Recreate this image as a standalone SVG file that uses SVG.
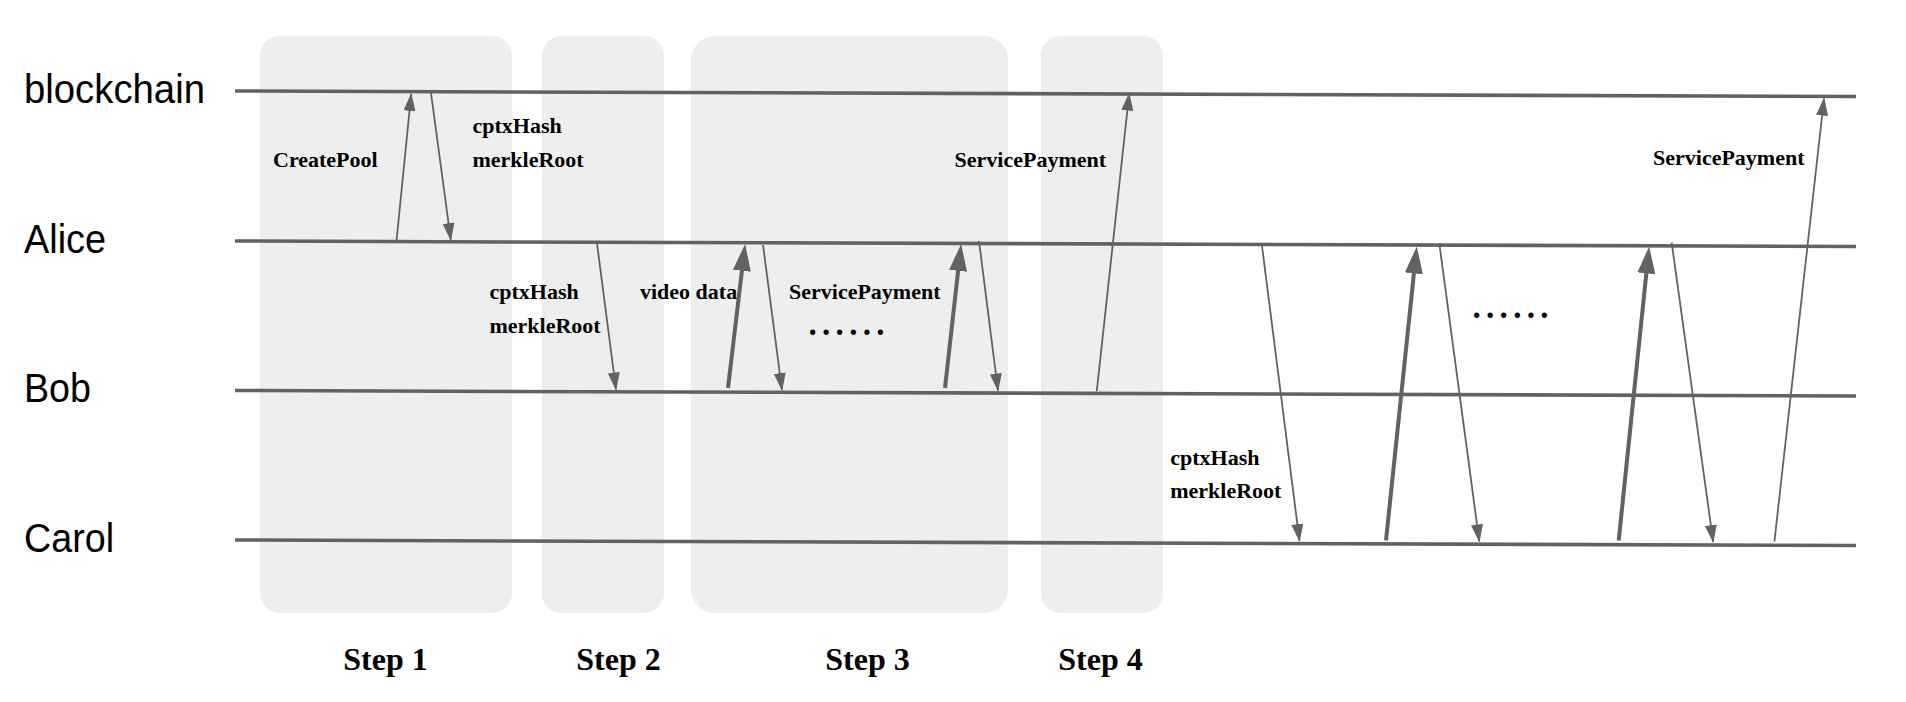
<svg xmlns="http://www.w3.org/2000/svg" width="1906" height="702" viewBox="0 0 1906 702">
<style>
.step{fill:#eeeeee}
.life{stroke:#626262;stroke-width:3.6;fill:none}
.actor{font-family:"Liberation Sans",Arial,sans-serif;font-size:40px;fill:#000}
.msg{font-family:"Liberation Serif","Times New Roman",serif;font-weight:bold;font-size:22px;fill:#000}
.steplbl{font-family:"Liberation Serif","Times New Roman",serif;font-weight:bold;font-size:32px;fill:#000;text-anchor:middle}
.dots{font-family:"Liberation Serif","Times New Roman",serif;font-weight:bold;font-size:33px;fill:#000;letter-spacing:5.3px}
.thin{stroke:#626262;stroke-width:1.8;fill:none;marker-end:url(#ah)}
.thick{stroke:#626262;stroke-width:4;fill:none;marker-end:url(#ahb)}
</style>
<defs>
<marker id="ah" markerUnits="userSpaceOnUse" markerWidth="18" markerHeight="12" refX="17" refY="6" orient="auto">
<path d="M0,0 L18,6 L0,12 z" fill="#626262"/>
</marker>
<marker id="ahb" markerUnits="userSpaceOnUse" markerWidth="27" markerHeight="18" refX="16" refY="9" orient="auto">
<path d="M0,0 L27,9 L0,18 z" fill="#626262"/>
</marker>
</defs>
<rect width="1906" height="702" fill="#ffffff"/>
<g id="step1"><rect class="step" x="260" y="36" width="252" height="577" rx="20"/><text class="steplbl" x="385.5" y="670">Step 1</text></g>
<g id="step2"><rect class="step" x="542" y="36" width="122" height="577" rx="20"/><text class="steplbl" x="618.5" y="670">Step 2</text></g>
<g id="step3"><rect class="step" x="691" y="36" width="317" height="577" rx="24"/><text class="steplbl" x="867.5" y="670">Step 3</text></g>
<g id="step4"><rect class="step" x="1041" y="36" width="122" height="577" rx="20"/><text class="steplbl" x="1100.5" y="670">Step 4</text></g>
<g id="blockchain"><text class="actor" x="24" y="102.5" textLength="181" lengthAdjust="spacingAndGlyphs">blockchain</text><line class="life" x1="235" y1="91" x2="1856" y2="96.5"/></g>
<g id="alice"><text class="actor" x="24" y="253" textLength="82" lengthAdjust="spacingAndGlyphs">Alice</text><line class="life" x1="235" y1="241" x2="1856" y2="246.5"/></g>
<g id="bob"><text class="actor" x="24" y="401.5" textLength="67" lengthAdjust="spacingAndGlyphs">Bob</text><line class="life" x1="235" y1="390.5" x2="1856" y2="396"/></g>
<g id="carol"><text class="actor" x="24" y="552" textLength="90" lengthAdjust="spacingAndGlyphs">Carol</text><line class="life" x1="235" y1="540" x2="1856" y2="545.5"/></g>
<g id="connectors">
<line class="thin" x1="396.6" y1="240" x2="411.2" y2="94"/>
<line class="thin" x1="431" y1="93" x2="450.8" y2="240"/>
<line class="thin" x1="597" y1="243.5" x2="616" y2="389.5"/>
<line class="thick" x1="728" y1="388" x2="743.8" y2="254.9"/>
<line class="thin" x1="763" y1="245" x2="782" y2="390"/>
<line class="thick" x1="945" y1="388" x2="959.9" y2="254.9"/>
<line class="thin" x1="979" y1="241" x2="998" y2="390.5"/>
<line class="thin" x1="1096.8" y1="391" x2="1129.2" y2="93.5"/>
<line class="thin" x1="1262" y1="246" x2="1299.5" y2="541"/>
<line class="thick" x1="1386" y1="540.5" x2="1415.6" y2="257.4"/>
<line class="thin" x1="1439.3" y1="243.3" x2="1479.3" y2="541.5"/>
<line class="thick" x1="1618.7" y1="540.5" x2="1648" y2="257.4"/>
<line class="thin" x1="1671.7" y1="242.7" x2="1713.2" y2="542"/>
<line class="thin" x1="1774.4" y1="541.7" x2="1824" y2="98.5"/>
</g>
<g id="labels">
<text class="msg" x="273" y="166.7">CreatePool</text>
<text class="msg" x="472.5" y="132.7">cptxHash</text>
<text class="msg" x="472.5" y="166.7">merkleRoot</text>
<text class="msg" x="489.5" y="299.3">cptxHash</text>
<text class="msg" x="489.5" y="332.7">merkleRoot</text>
<text class="msg" x="640" y="299.3">video data</text>
<text class="msg" x="789" y="299.3">ServicePayment</text>
<text class="dots" x="808.5" y="335">......</text>
<text class="msg" x="954.6" y="166.7">ServicePayment</text>
<text class="msg" x="1170.2" y="465">cptxHash</text>
<text class="msg" x="1170.2" y="498.3">merkleRoot</text>
<text class="dots" x="1472.5" y="318.3">......</text>
<text class="msg" x="1653" y="165">ServicePayment</text>
</g>
</svg>
